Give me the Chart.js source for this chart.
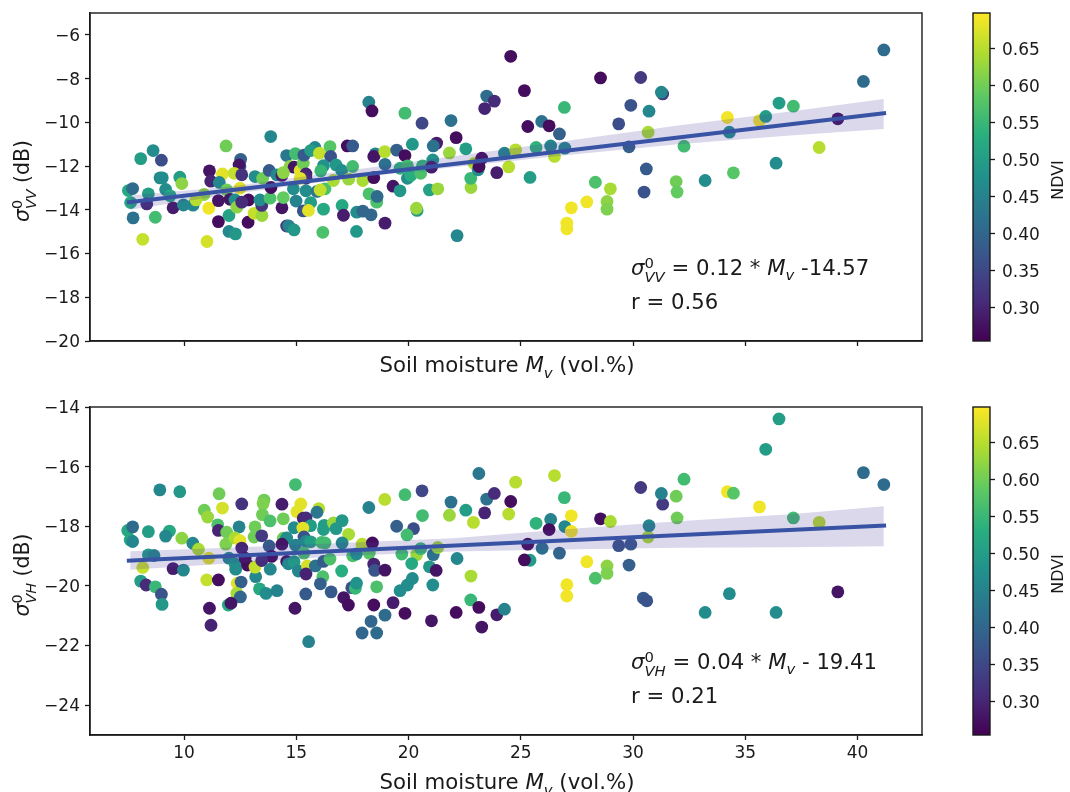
<!DOCTYPE html>
<html lang="en">
<head>
<meta charset="UTF-8">
<title>Backscatter vs soil moisture</title>
<script src="https://cdn.jsdelivr.net/npm/chart.js"></script>
<style>
    body { margin: 0; background: #fff; width: 1070px; height: 792px; position: relative; overflow: hidden; font-family: "DejaVu Sans", sans-serif; color: #1a1a1a; }
    canvas { position: absolute; }
    .label { position: absolute; white-space: nowrap; line-height: 1; }
    .axis { font-size: 21.3px; transform: translate(-50%, -50%); }
    .ylab { font-size: 20.5px; transform: translate(-50%, -50%) rotate(-90deg); }
    .note { font-size: 21.2px; }
    .cblab { font-size: 16px; transform: translate(-50%, -50%) rotate(-90deg); }
    .ss { display: inline-block; vertical-align: -0.5em; font-size: 0.7em; line-height: 0.95; text-align: left; }
    .ss > * { display: block; }
    sub { font-size: 0.7em; line-height: 0; }
</style>
</head>
<body>
<canvas id="vvChart" width="960" height="390" style="left:0;top:0"></canvas>
<canvas id="vvBar" width="110" height="390" style="left:960px;top:0"></canvas>
<canvas id="vhChart" width="960" height="398" style="left:0;top:394px"></canvas>
<canvas id="vhBar" width="110" height="390" style="left:960px;top:394px"></canvas>

<div class="label ylab" style="left:25px;top:181px"><i>σ</i><span class="ss"><span>0</span><i>VV</i></span> (dB)</div>
<div class="label axis" style="left:507px;top:365px">Soil moisture <i>M</i><sub><i>v</i></sub> (vol.%)</div>
<div class="label note" style="left:631px;top:256px"><i>σ</i><span class="ss"><span>0</span><i>VV</i></span> = 0.12 * <i>M</i><sub><i>v</i></sub> -14.57</div>
<div class="label note" style="left:631px;top:291px">r = 0.56</div>
<div class="label cblab" style="left:1058px;top:180px">NDVI</div>

<div class="label ylab" style="left:25px;top:575px"><i>σ</i><span class="ss"><span>0</span><i>VH</i></span> (dB)</div>
<div class="label axis" style="left:507px;top:782px">Soil moisture <i>M</i><sub><i>v</i></sub> (vol.%)</div>
<div class="label note" style="left:631px;top:650px"><i>σ</i><span class="ss"><span>0</span><i>VH</i></span> = 0.04 * <i>M</i><sub><i>v</i></sub> - 19.41</div>
<div class="label note" style="left:631px;top:685px">r = 0.21</div>
<div class="label cblab" style="left:1058px;top:574px">NDVI</div>

<script>
const soilTicks = [10, 15, 20, 25, 30, 35, 40];
const vvTicks = [-20, -18, -16, -14, -12, -10, -8, -6];
const vhTicks = [-24, -22, -20, -18, -16, -14];
const ndviTicks = [0.30, 0.35, 0.40, 0.45, 0.50, 0.55, 0.60, 0.65];

const soilVV = [
    7.52,7.71,7.62,7.73,8.07,8.62,8.99,8.93,9.03,9.18,
    8.41,8.34,9.38,9.81,9.9,8.72,8.16,9.51,9.97,10.4,
    10.89,10.53,11.02,11.1,11.13,11.19,11.71,11.57,11.87,11.53,
    11.53,12.0,12.0,12.29,11.9,12.49,12.52,12.49,12.45,12.23,
    12.57,12.05,12.27,12.35,12.87,12.57,12.85,13.16,13.5,13.12,
    13.47,13.46,13.46,13.38,13.83,13.87,13.86,13.79,14.13,14.36,
    14.36,14.42,14.57,14.96,14.72,14.9,14.42,14.87,14.99,14.57,
    14.66,14.9,15.17,15.31,15.34,15.83,15.64,16.03,16.5,16.53,
    16.21,16.09,16.77,17.02,15.43,15.43,15.17,15.43,15.92,16.28,
    16.06,15.64,15.31,15.54,16.21,16.65,17.33,17.51,17.27,17.51,
    17.96,17.04,17.1,17.69,17.96,18.33,17.68,16.18,18.23,18.37,
    18.52,18.45,18.94,18.95,18.45,18.24,18.58,18.6,18.95,19.31,
    19.62,19.47,19.84,19.84,20.6,20.17,21.25,21.1,21.89,22.12,
    21.82,22.55,19.62,19.95,19.95,20.1,20.54,20.62,21.08,21.02,
    20.93,21.3,20.38,20.35,22.16,22.78,22.77,22.92,23.1,23.14,
    23.26,23.93,24.27,24.46,24.77,25.41,25.68,26.33,26.5,26.96,
    26.72,25.93,26.26,25.31,26.94,25.16,24.55,23.48,23.82,23.39,
    28.32,28.99,28.84,28.84,27.94,27.25,27.05,27.05,28.55,30.34,
    29.36,29.9,29.82,30.67,30.71,31.32,31.26,30.59,30.49,32.27,
    31.92,31.96,33.21,34.47,34.2,34.29,35.63,35.91,36.37,36.5,
    37.14,38.29,39.12,40.26,41.17
];
const sigmaVV = [
    -13.12,-13.03,-13.67,-14.37,-11.66,-11.29,-11.73,-12.54,-12.54,-13.07,
    -13.27,-13.73,-13.36,-12.51,-12.8,-14.34,-15.35,-13.91,-13.78,-13.79,
    -13.30,-13.55,-15.45,-13.93,-12.22,-12.69,-12.36,-12.75,-11.08,-13.58,
    -14.54,-14.26,-14.99,-15.1,-13.09,-13.01,-11.69,-12.02,-11.95,-12.33,
    -12.4,-13.52,-13.55,-13.88,-13.55,-13.65,-14.57,-12.48,-12.56,-14.16,
    -14.26,-13.65,-13.8,-13.55,-13.47,-12.98,-10.65,-12.2,-12.4,-12.43,
    -13.91,-13.44,-11.52,-11.43,-12.02,-12.05,-12.3,-13.04,-13.6,-14.74,
    -14.74,-14.92,-12.2,-11.87,-11.5,-11.15,-11.29,-11.41,-11.11,-11.56,
    -11.98,-12.22,-11.95,-12.2,-12.36,-12.56,-12.56,-13.13,-13.16,-13.04,
    -13.09,-13.67,-14.05,-14.03,-13.97,-12.66,-12.6,-12.02,-11.08,-11.08,
    -12.66,-13.8,-14.25,-14.11,-14.06,-14.23,-14.99,-15.03,-9.08,-9.48,
    -11.44,-11.56,-11.34,-11.92,-12.53,-13.27,-13.65,-13.39,-14.61,-12.92,
    -13.13,-11.27,-11.52,-9.58,-10.04,-11.0,-10.95,-11.08,-9.92,-10.7,
    -11.4,-11.21,-12.1,-11.99,-12.56,-12.43,-12.33,-11.99,-11.72,-12.05,
    -13.09,-13.04,-14.03,-13.93,-15.18,-12.98,-12.56,-11.88,-12.17,-12.02,
    -11.64,-12.3,-11.41,-12.04,-11.26,-12.52,-11.15,-11.08,-11.56,-11.18,
    -10.53,-9.96,-10.16,-10.19,-9.32,-8.55,-6.98,-8.8,-9.03,-9.37,
    -12.74,-13.04,-13.62,-13.97,-13.64,-13.91,-14.61,-14.87,-7.97,-7.95,
    -10.07,-9.22,-11.12,-10.45,-9.49,-8.7,-8.62,-12.13,-13.19,-11.09,
    -12.71,-13.19,-12.66,-12.31,-9.78,-10.45,-9.92,-9.73,-11.87,-9.12,
    -9.26,-11.15,-9.84,-8.13,-6.69
];
const ndviVV = [
    .52,.41,.52,.42,.5,.47,.36,.46,.47,.47,
    .5,.31,.52,.5,.62,.56,.66,.29,.46,.46,
    .62,.65,.67,.69,.28,.30,.68,.46,.60,.28,
    .27,.51,.46,.49,.6,.68,.39,.39,.28,.66,
    .32,.28,.47,.62,.27,.31,.27,.47,.6,.66,
    .63,.31,.32,.47,.57,.27,.46,.38,.46,.29,
    .28,.59,.43,.56,.62,.28,.62,.47,.45,.33,
    .45,.49,.68,.6,.38,.46,.5,.66,.58,.37,
    .48,.55,.49,.47,.3,.31,.68,.47,.43,.57,
    .66,.5,.37,.68,.52,.64,.63,.56,.27,.38,
    .64,.52,.29,.47,.4,.4,.49,.57,.45,.27,
    .45,.28,.65,.42,.27,.57,.57,.41,.29,.28,
    .49,.39,.27,.56,.35,.49,.29,.42,.42,.27,
    .63,.5,.54,.56,.47,.53,.57,.55,.48,.29,
    .51,.63,.49,.63,.46,.63,.55,.65,.47,.27,
    .27,.29,.46,.65,.65,.5,.54,.46,.65,.46,
    .39,.42,.27,.27,.55,.27,.27,.41,.31,.3,
    .57,.64,.62,.61,.69,.69,.69,.69,.27,.33,
    .36,.37,.39,.64,.46,.33,.46,.38,.37,.56,
    .6,.59,.47,.58,.69,.47,.69,.5,.47,.5,
    .56,.65,.28,.41,.41
];

const soilVH = [
    7.49,7.71,7.6,7.71,8.41,8.92,9.81,9.35,9.18,9.9,
    10.39,10.64,8.41,8.66,8.16,9.51,9.97,8.07,8.31,8.72,
    8.99,9.02,11.1,11.01,11.53,11.13,11.2,11.56,10.9,11.05,
    11.71,12.57,11.5,11.53,11.9,11.86,12.45,12.27,12.49,12.57,
    12.0,12.27,12.3,12.82,12.72,13.19,13.16,12.37,12.54,12.35,
    12.51,13.36,13.65,14.14,11.97,12.09,13.56,13.52,13.49,13.83,
    13.16,13.12,13.46,13.79,14.36,14.42,14.96,15.2,15.02,16.0,
    15.92,15.31,15.43,14.9,15.64,15.29,16.24,16.21,16.65,17.04,
    16.77,17.33,17.04,15.34,14.42,14.57,14.36,14.96,15.43,15.64,
    16.13,16.28,15.34,13.9,13.46,13.84,14.57,14.65,14.9,15.09,
    15.49,15.85,16.21,16.5,15.43,16.18,16.07,15.42,16.55,14.94,
    15.55,17.02,17.11,17.32,17.47,17.63,17.68,17.51,17.68,17.93,
    18.25,18.39,18.45,18.49,18.95,18.58,18.45,18.95,18.33,17.93,
    18.58,18.23,18.94,19.84,20.6,19.47,20.22,19.93,20.62,19.7,
    20.36,20.54,20.14,21.1,21.3,20.93,21.23,22.16,21.08,20.17,
    19.95,19.62,19.31,19.84,21.02,22.12,22.78,22.77,21.89,22.55,
    21.82,22.89,23.13,23.48,23.82,23.39,24.55,24.46,24.77,23.13,
    23.93,24.27,23.26,25.31,25.41,25.16,25.95,25.68,26.33,26.26,
    26.5,26.94,26.96,26.72,27.25,27.25,27.05,27.05,27.94,28.32,
    28.84,28.84,28.55,28.99,29.36,29.9,29.82,30.67,30.71,30.34,
    31.32,31.26,31.92,31.96,32.27,30.46,30.61,33.21,34.29,34.2,
    34.47,35.63,35.91,36.37,36.5,37.14,38.29,39.12,40.26,41.17
];
const sigmaVH = [
    -18.14,-18.02,-18.46,-18.51,-18.18,-16.78,-16.84,-18.16,-18.33,-18.4,
    -18.57,-18.77,-18.96,-18.98,-19.38,-19.42,-19.47,-19.84,-19.97,-20.03,
    -20.28,-20.62,-19.07,-19.8,-19.8,-20.75,-21.32,-16.91,-17.46,-17.69,
    -17.39,-17.25,-17.95,-18.14,-18.2,-18.6,-18.02,-18.39,-18.48,-18.73,
    -19.07,-19.26,-19.44,-19.3,-19.07,-19.69,-19.37,-19.91,-19.87,-20.25,
    -20.37,-20.1,-20.25,-20.16,-20.64,-20.58,-17.12,-17.24,-17.61,-17.82,
    -18.02,-18.36,-18.32,-18.66,-17.26,-17.75,-16.6,-17.25,-17.51,-17.41,
    -17.53,-17.73,-17.72,-18.05,-17.98,-18.06,-17.97,-18.11,-17.89,-17.81,
    -18.08,-18.27,-18.56,-18.36,-18.4,-18.39,-18.6,-18.63,-18.51,-18.52,
    -18.54,-18.56,-18.9,-19.01,-19.15,-19.44,-19.18,-19.26,-19.19,-19.5,
    -19.33,-19.33,-19.18,-19.1,-19.6,-19.69,-19.93,-20.27,-20.2,-20.75,
    -21.87,-19.5,-20.39,-20.64,-20.06,-20.08,-19.91,-18.99,-18.93,-18.6,
    -18.9,-18.56,-19.27,-19.48,-19.47,-20.03,-20.64,-20.98,-21.19,-21.58,
    -21.58,-17.37,-17.1,-16.94,-16.81,-18.0,-18.08,-18.29,-17.64,-18.93,
    -18.95,-18.75,-19.25,-18.95,-18.71,-19.36,-19.48,-19.08,-19.97,-19.75,
    -19.97,-20.16,-20.56,-20.92,-21.17,-20.89,-19.67,-20.47,-17.19,-17.46,
    -17.63,-17.87,-16.23,-17.09,-16.9,-17.55,-17.17,-17.59,-16.52,-20.72,
    -20.97,-20.78,-21.38,-18.6,-19.14,-19.13,-18.74,-17.9,-17.77,-18.11,
    -16.3,-17.04,-18.01,-18.9,-17.65,-18.17,-19.96,-20.34,-19.19,-19.74,
    -19.33,-19.58,-17.75,-17.84,-18.65,-18.6,-19.3,-18.36,-17.98,-16.7,
    -17.26,-16.9,-16.99,-17.72,-16.42,-20.41,-20.5,-20.89,-20.26,-16.84,
    -16.89,-17.35,-15.42,-20.89,-14.4,-17.72,-17.87,-20.2,-16.2,-16.6
];
const ndviVH = [
    .52,.41,.52,.46,.5,.46,.49,.52,.46,.62,
    .46,.64,.5,.46,.66,.29,.46,.5,.31,.55,
    .37,.49,.68,.66,.27,.28,.3,.6,.6,.63,
    .67,.32,.57,.3,.6,.61,.45,.64,.68,.3,
    .46,.48,.47,.27,.27,.46,.66,.68,.39,.64,
    .4,.52,.47,.45,.52,.28,.6,.61,.6,.57,
    .6,.6,.33,.38,.29,.6,.56,.68,.68,.65,
    .43,.3,.31,.47,.5,.68,.5,.5,.63,.49,
    .49,.64,.46,.37,.6,.47,.28,.45,.46,.5,
    .56,.56,.57,.27,.31,.46,.28,.46,.49,.46,
    .67,.42,.38,.57,.3,.57,.39,.38,.38,.28,
    .45,.53,.28,.27,.36,.55,.48,.57,.47,.65,
    .58,.27,.3,.37,.28,.57,.27,.41,.4,.4,
    .41,.45,.65,.56,.35,.39,.36,.56,.56,.56,
    .63,.55,.52,.42,.63,.49,.28,.46,.47,.47,
    .47,.47,.29,.27,.28,.27,.64,.55,.42,.5,
    .63,.65,.43,.42,.31,.3,.27,.65,.65,.27,
    .29,.45,.28,.27,.5,.27,.42,.54,.45,.27,
    .65,.55,.46,.4,.69,.69,.69,.69,.69,.57,
    .62,.61,.27,.64,.37,.38,.39,.64,.46,.33,
    .33,.45,.6,.6,.56,.38,.37,.47,.47,.69,
    .58,.69,.5,.47,.5,.56,.65,.28,.41,.41
];

// regression lines and their confidence bands
const fitX = [7.45, 41.27];
const fitVV = [-13.67, -9.57];
const fitVH = [-19.16, -17.97];
const bandX = [7.6, 12, 17, 22, 27, 32, 37, 41.17];
const bandHighVV = [-13.35, -12.95, -12.25, -11.55, -10.85, -10.15, -9.5, -8.93];
const bandLowVV = [-14.0, -13.3, -12.6, -12.05, -11.5, -11.0, -10.6, -10.31];
const bandHighVH = [-18.84, -18.72, -18.56, -18.4, -18.1, -17.83, -17.6, -17.33];
const bandLowVH = [-19.46, -19.25, -19.0, -18.85, -18.78, -18.72, -18.7, -18.67];

const ndviMin = 0.2554;
const ndviMax = 0.6986;
const viridis = ['#440154', '#472d7b', '#3b528b', '#2c728e', '#21918c', '#28ae80', '#5ec962', '#addc30', '#fde725'];
const ink = '#1a1a1a';

function ndviColor(n) {
    const t = Math.min(0.9999, Math.max(0, (n - ndviMin) / (ndviMax - ndviMin))) * (viridis.length - 1);
    const i = Math.floor(t);
    const a = parseInt(viridis[i].slice(1), 16);
    const b = parseInt(viridis[i + 1].slice(1), 16);
    const mix = (shift) => Math.round(((a >> shift) & 255) * (1 - t + i) + ((b >> shift) & 255) * (t - i));
    return `rgb(${mix(16)},${mix(8)},${mix(0)})`;
}

function toPoints(xs, ys) {
    return xs.map((x, i) => ({ x: x, y: ys[i] }));
}

// the axes would otherwise reserve room for half a tick label and push the plot area around
function noAxisPadding(axis) {
    axis.paddingTop = 0;
    axis.paddingBottom = 0;
    axis.paddingLeft = 0;
    axis.paddingRight = 0;
}

const framePlugin = {
    id: 'frame',
    // canvas 'middle' baseline sits a bit above the tick, so drop the y labels onto it
    afterLayout(chart) {
        const axis = chart.scales.y;
        const drawLabels = axis.drawLabels;
        axis.drawLabels = function (area) {
            this.ctx.save();
            this.ctx.translate(0, 1.5);
            drawLabels.call(this, area);
            this.ctx.restore();
        };
    },
    afterDraw(chart) {
        const { ctx, chartArea: a } = chart;
        ctx.save();
        ctx.strokeStyle = ink;
        ctx.lineWidth = 1.4;
        ctx.strokeRect(a.left, a.top, a.right - a.left, a.bottom - a.top);
        ctx.restore();
    }
};

function scatterPanel(id, soil, sigma, ndvi, fit, low, high, yTicks, yMin, yMax, showXLabels, xHeight) {
    new Chart(document.getElementById(id), {
        type: 'scatter',
        data: {
            datasets: [
                { data: toPoints(fitX, fit), showLine: true, borderColor: '#3953a4', borderWidth: 4, pointRadius: 0, order: 0 },
                { data: toPoints(bandX, high), showLine: true, borderWidth: 0, pointRadius: 0, order: 1 },
                { data: toPoints(bandX, low), showLine: true, borderWidth: 0, pointRadius: 0, fill: '-1', backgroundColor: 'rgba(76,62,160,0.2)', order: 2 },
                { data: toPoints(soil, sigma), pointRadius: 6.4, borderWidth: 0, pointBackgroundColor: ndvi.map(ndviColor), order: 3 }
            ]
        },
        options: {
            responsive: false,
            animation: false,
            layout: { padding: { top: 13, right: 38 } },
            plugins: { legend: { display: false }, tooltip: { enabled: false } },
            scales: {
                x: {
                    type: 'linear', min: 5.81, max: 42.87,
                    afterBuildTicks(axis) { axis.ticks = soilTicks.map(v => ({ value: v })); },
                    afterFit(axis) { axis.height = xHeight; noAxisPadding(axis); },
                    grid: { drawOnChartArea: false, tickLength: 5, tickColor: ink, tickWidth: 1.3 },
                    border: { color: ink, width: 1.4 },
                    ticks: { display: showXLabels, maxRotation: 0, autoSkip: false, color: ink, padding: 3, font: { family: 'DejaVu Sans', size: 17 } }
                },
                y: {
                    min: yMin, max: yMax,
                    afterBuildTicks(axis) { axis.ticks = yTicks.map(v => ({ value: v })); },
                    afterFit(axis) { axis.width = 90; noAxisPadding(axis); },
                    grid: { drawOnChartArea: false, tickLength: 5, tickColor: ink, tickWidth: 1.3 },
                    border: { color: ink, width: 1.4 },
                    ticks: { color: ink, padding: 5, autoSkip: false, font: { family: 'DejaVu Sans', size: 17 }, callback: v => String(v).replace('-', '\u2212') }
                }
            }
        },
        plugins: [framePlugin]
    });
}

function colorBar(id) {
    new Chart(document.getElementById(id), {
        type: 'bar',
        data: {
            labels: ['NDVI'],
            datasets: [{
                data: [[ndviMin, ndviMax]],
                barPercentage: 1,
                categoryPercentage: 1,
                borderWidth: 0,
                backgroundColor(c) {
                    const a = c.chart.chartArea;
                    if (!a) return viridis[4];
                    const g = c.chart.ctx.createLinearGradient(0, a.bottom, 0, a.top);
                    viridis.forEach((col, i) => g.addColorStop(i / (viridis.length - 1), col));
                    return g;
                }
            }]
        },
        options: {
            responsive: false,
            animation: false,
            layout: { padding: { top: 13, bottom: 49, left: 13 } },
            plugins: { legend: { display: false }, tooltip: { enabled: false } },
            scales: {
                x: { display: false },
                y: {
                    position: 'right', min: ndviMin, max: ndviMax,
                    afterBuildTicks(axis) { axis.ticks = ndviTicks.map(v => ({ value: v })); },
                    afterFit(axis) { axis.width = 80; noAxisPadding(axis); },
                    grid: { drawOnChartArea: false, tickLength: 5, tickColor: ink, tickWidth: 1.3 },
                    border: { display: false },
                    ticks: { color: ink, padding: 7, autoSkip: false, font: { family: 'DejaVu Sans', size: 17 }, callback: v => v.toFixed(2) }
                }
            }
        },
        plugins: [framePlugin]
    });
}

scatterPanel('vvChart', soilVV, sigmaVV, ndviVV, fitVV, bandLowVV, bandHighVV, vvTicks, -20, -5, false, 49);
scatterPanel('vhChart', soilVH, sigmaVH, ndviVH, fitVH, bandLowVH, bandHighVH, vhTicks, -25, -14, true, 57);
colorBar('vvBar');
colorBar('vhBar');
</script>
</body>
</html>
